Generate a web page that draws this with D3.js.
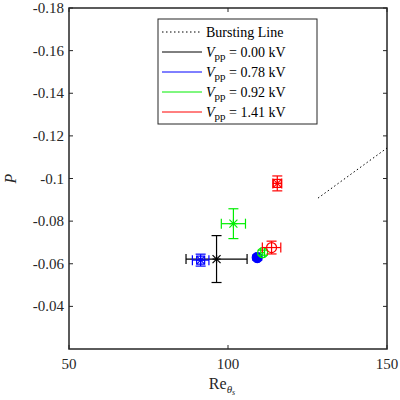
<!DOCTYPE html>
<html><head><meta charset="utf-8">
<script src="https://cdn.jsdelivr.net/npm/d3@7"></script>
<style>body{margin:0;background:#fff}svg text{font-family:"Liberation Serif","DejaVu Serif",serif}</style>
</head><body><div id="chart"></div>
<script>
// series: [x, y, xerr, yerr, marker]
const seriesNames = ['0.00', '0.78', '0.92', '1.41'];
const seriesColors = ['#000000', '#0000ff', '#00ee00', '#ff0000'];
const black = [[96.4, -0.0622, 9.6, 0.011, 'star']];
const blue = [[91.4, -0.0617, 2.6, 0.0028, 'starbox'], [109.2, -0.0629, 0.6, 0.0012, 'dot']];
const green = [[101.7, -0.0788, 3.8, 0.007, 'star'], [110.9, -0.0652, 0.6, 0.0012, 'circ']];
const red = [[115.5, -0.0977, 1.4, 0.0035, 'starbox'], [113.7, -0.0676, 2.9, 0.003, 'circ']];
const burstLine = [[128.3, -0.0908], [150, -0.1143]];
const xTicks = [50, 100, 150];
const yTicks = [-0.18, -0.16, -0.14, -0.12, -0.1, -0.08, -0.06, -0.04];

const width = 400, height = 400;
const m = {left: 69, right: 13, top: 8, bottom: 51};
const svg = d3.select('#chart').append('svg').attr('width', width).attr('height', height);

const x = d3.scaleLinear().domain([50, 150]).range([m.left, width - m.right]);
const y = d3.scaleLinear().domain([-0.18, -0.02]).range([m.top, height - m.bottom]);

// axes box
svg.append('rect').attr('x', m.left).attr('y', m.top)
    .attr('width', x(150) - x(50)).attr('height', y(-0.02) - y(-0.18))
    .attr('fill', 'none').attr('stroke', '#262626').attr('stroke-width', 1.5);

const fmt = d => d === -0.1 ? '-0.1' : d3.format('.2f')(d).replace('−', '-');
yTicks.forEach(t => {
    svg.append('line').attr('x1', m.left).attr('x2', m.left + 4).attr('y1', y(t)).attr('y2', y(t)).attr('stroke', '#262626');
    svg.append('line').attr('x1', x(150)).attr('x2', x(150) - 4).attr('y1', y(t)).attr('y2', y(t)).attr('stroke', '#262626');
    svg.append('text').attr('x', m.left - 5).attr('y', y(t) + 5).attr('text-anchor', 'end')
        .style('font-size', '15px').attr('fill', '#262626').text(fmt(t));
});
xTicks.forEach(t => {
    svg.append('line').attr('x1', x(t)).attr('x2', x(t)).attr('y1', y(-0.02)).attr('y2', y(-0.02) - 4).attr('stroke', '#262626');
    svg.append('line').attr('x1', x(t)).attr('x2', x(t)).attr('y1', m.top).attr('y2', m.top + 4).attr('stroke', '#262626');
    svg.append('text').attr('x', x(t)).attr('y', y(-0.02) + 20).attr('text-anchor', 'middle')
        .style('font-size', '15px').attr('fill', '#262626').text(t);
});

// axis labels
const xl = svg.append('text').attr('x', x(100) - 6).attr('y', 389).attr('text-anchor', 'middle')
    .style('font-size', '16px').attr('fill', '#262626');
xl.append('tspan').text('Re');
xl.append('tspan').attr('dy', 4).style('font-size', '11px').style('font-style', 'italic').text('θ');
xl.append('tspan').attr('dy', 2).style('font-size', '8px').style('font-style', 'italic').text('s');
svg.append('text').attr('transform', `translate(16,${y(-0.1)}) rotate(-90)`).attr('text-anchor', 'middle')
    .style('font-size', '16px').style('font-style', 'italic').attr('fill', '#262626').text('P');

// bursting line
svg.append('path').attr('d', d3.line().x(d => x(d[0])).y(d => y(d[1]))(burstLine))
    .attr('fill', 'none').attr('stroke', '#000').attr('stroke-width', 1).attr('stroke-dasharray', '1.5,2.5');

// error bars and markers
function drawSeries(data, color) {
    const g = svg.append('g').attr('stroke', color).attr('fill', 'none').attr('stroke-width', 1.2);
    data.forEach(([cx, cy, ex, ey, mk]) => {
        const px = x(cx), py = y(cy), cap = 5;
        g.append('line').attr('x1', x(cx - ex)).attr('x2', x(cx + ex)).attr('y1', py).attr('y2', py);
        g.append('line').attr('x1', x(cx - ex)).attr('x2', x(cx - ex)).attr('y1', py - cap).attr('y2', py + cap);
        g.append('line').attr('x1', x(cx + ex)).attr('x2', x(cx + ex)).attr('y1', py - cap).attr('y2', py + cap);
        g.append('line').attr('x1', px).attr('x2', px).attr('y1', y(cy - ey)).attr('y2', y(cy + ey));
        g.append('line').attr('x1', px - cap).attr('x2', px + cap).attr('y1', y(cy - ey)).attr('y2', y(cy - ey));
        g.append('line').attr('x1', px - cap).attr('x2', px + cap).attr('y1', y(cy + ey)).attr('y2', y(cy + ey));
        const r = 4;
        if (mk === 'star' || mk === 'starbox') {
            [[-r, -r, r, r], [-r, r, r, -r], [-r, 0, r, 0], [0, -r, 0, r]].forEach(s =>
                g.append('line').attr('x1', px + s[0]).attr('y1', py + s[1]).attr('x2', px + s[2]).attr('y2', py + s[3]));
            if (mk === 'starbox') g.append('rect').attr('x', px - r).attr('y', py - r).attr('width', 2 * r).attr('height', 2 * r);
        } else if (mk === 'dot') {
            g.append('circle').attr('cx', px).attr('cy', py).attr('r', 5).attr('fill', color);
        } else {
            g.append('circle').attr('cx', px).attr('cy', py).attr('r', 5);
        }
    });
}
drawSeries(black, seriesColors[0]);
drawSeries(blue, seriesColors[1]);
drawSeries(green, seriesColors[2]);
drawSeries(red, seriesColors[3]);

// legend
const lg = svg.append('g').attr('transform', 'translate(158,19)');
lg.append('rect').attr('width', 159).attr('height', 105).attr('fill', '#fff').attr('stroke', '#262626').attr('stroke-width', 1);
const rows = [{label: null, color: '#000', dash: '1.5,2.5'}].concat(seriesNames.map((s, i) => ({label: s, color: seriesColors[i]})));
rows.forEach((r, i) => {
    const ry = 13 + i * 20;
    lg.append('line').attr('x1', 4).attr('x2', 44).attr('y1', ry).attr('y2', ry)
        .attr('stroke', r.color).attr('stroke-width', 1).attr('stroke-dasharray', r.dash || null);
    const t = lg.append('text').attr('x', 48).attr('y', ry + 5).style('font-size', '14px').attr('fill', '#000');
    if (r.label === null) { t.text('Bursting Line'); return; }
    t.append('tspan').style('font-style', 'italic').text('V');
    t.append('tspan').attr('dy', 3).style('font-size', '11px').text('pp');
    t.append('tspan').attr('dy', -3).text(` = ${r.label} kV`);
});
</script></body></html>
